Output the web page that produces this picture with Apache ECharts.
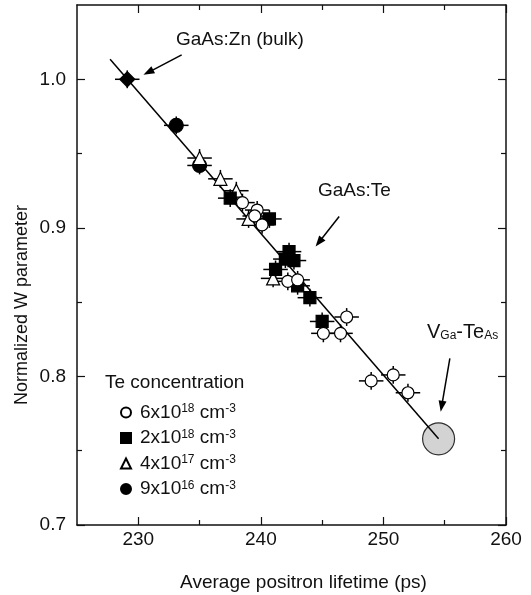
<!DOCTYPE html>
<html>
<head>
<meta charset="utf-8">
<script src="https://cdn.jsdelivr.net/npm/echarts@6/dist/echarts.min.js"></script>
<style>
  html, body { margin: 0; padding: 0; background: #fff; }
  #chart { width: 531px; height: 595px; }
</style>
</head>
<body>
<div id="chart"></div>
<script>
// Te 6x10^18 cm^-3 (open circles)
const circX = [238.5, 239.7, 239.5, 240.1, 242.2, 243.0, 245.1, 246.5, 247.0, 249.0, 250.8, 252.0];
const circY = [0.917, 0.912, 0.908, 0.902, 0.864, 0.865, 0.829, 0.829, 0.840, 0.797, 0.801, 0.789];
// Te 2x10^18 cm^-3 (filled squares)
const sqX = [237.5, 240.7, 242.3, 242.7, 242.0, 241.2, 243.0, 244.0, 245.0];
const sqY = [0.920, 0.906, 0.884, 0.878, 0.879, 0.872, 0.861, 0.853, 0.837];
// Te 4x10^17 cm^-3 (open triangles)
const triX = [235.0, 236.7, 238.0, 239.0, 241.0];
const triY = [0.947, 0.933, 0.925, 0.906, 0.866];
// Te 9x10^16 cm^-3 (filled circles)
const dotX = [233.1, 235.0];
const dotY = [0.969, 0.942];
// GaAs:Zn (bulk) reference
const znX = [229.1];
const znY = [1.000];
// V_Ga-Te_As point
const vX = [254.5];
const vY = [0.758];
// fitted line
const fitX = [227.7, 254.5];
const fitY = [1.0135, 0.758];
const xErr = 1.0;
const yErr = 0.006;

const xMajor = [230, 240, 250, 260];
const xMinor = [235, 245, 255];
const yMajor = [0.7, 0.8, 0.9, 1.0];
const yMinor = [0.75, 0.85, 0.95];

const font = '"Liberation Sans", Arial, sans-serif';
const ink = '#111';

function pts(xs, ys) { return xs.map((x, i) => [x, ys[i]]); }

let EChart = echarts.init(document.getElementById('chart'));

const allPts = [].concat(pts(znX, znY), pts(dotX, dotY), pts(triX, triY), pts(sqX, sqY), pts(circX, circY));

function axisX(pos, ticks, len, showLine, showLabel) {
  return {
    type: 'value', position: pos, min: 225, max: 260,
    axisLine: { show: showLine, onZero: false, lineStyle: { color: ink, width: 1.5 } },
    axisTick: { show: true, inside: true, length: len, customValues: ticks, lineStyle: { color: ink, width: 1.2 } },
    axisLabel: { show: showLabel, customValues: ticks, color: ink, fontSize: 19, fontFamily: font, margin: 5 },
    splitLine: { show: false }
  };
}
function axisY(pos, ticks, len, showLine, showLabel) {
  return {
    type: 'value', position: pos, min: 0.7, max: 1.05,
    axisLine: { show: showLine, onZero: false, lineStyle: { color: ink, width: 1.5 } },
    axisTick: { show: true, inside: true, length: len, customValues: ticks, lineStyle: { color: ink, width: 1.2 } },
    axisLabel: { show: showLabel, customValues: ticks, color: ink, fontSize: 19, fontFamily: font, margin: 11,
      formatter: v => v.toFixed(1) },
    splitLine: { show: false }
  };
}

const xAxes = [
  axisX('bottom', xMajor, 8, true, true),
  axisX('bottom', xMinor, 5, false, false),
  axisX('top', xMajor, 8, true, false),
  axisX('top', xMinor, 5, false, false)
];
xAxes[0].name = 'Average positron lifetime (ps)';
xAxes[0].nameLocation = 'middle';
xAxes[0].nameGap = 48;
xAxes[0].nameTextStyle = { color: ink, fontSize: 19, fontFamily: font, padding: [0, 0, 0, 24] };

const yAxes = [
  axisY('left', yMajor, 8, true, true),
  axisY('left', yMinor, 5, false, false),
  axisY('right', yMajor, 8, true, false),
  axisY('right', yMinor, 5, false, false)
];

const sup = { fontSize: 12, fontFamily: font, color: ink, verticalAlign: 'top' };
const sub = { fontSize: 12, fontFamily: font, color: ink, verticalAlign: 'bottom' };

function scatter(name, data, symbol, size, fill) {
  return {
    name: name, type: 'scatter', data: data, symbol: symbol, symbolSize: size, z: 5,
    itemStyle: { color: fill, borderColor: '#000', borderWidth: 1.2, opacity: 1 }
  };
}

let option = {
  animation: false,
  backgroundColor: '#fff',
  grid: { left: 77, right: 25, top: 5, bottom: 70, containLabel: false, outerBoundsMode: 'none' },
  xAxis: xAxes,
  yAxis: yAxes,
  legend: {
    orient: 'vertical', left: 120, top: 403, padding: 0,
    itemWidth: 10, itemHeight: 10, itemGap: 6.5,
    data: ['c6e18', 'c2e18', 'c4e17', 'c9e16'],
    formatter: n => ({
      c6e18: '6x10{s|18} cm{s|-3}',
      c2e18: '2x10{s|18} cm{s|-3}',
      c4e17: '4x10{s|17} cm{s|-3}',
      c9e16: '9x10{s|16} cm{s|-3}'
    })[n],
    textStyle: { color: ink, fontSize: 19, fontFamily: font, padding: [0, 0, 0, 4], rich: { s: sup } }
  },
  graphic: [
    { type: 'text', x: 22, y: 305, rotation: Math.PI / 2,
      style: { text: 'Normalized W parameter', font: '18px ' + font, fill: ink, textAlign: 'center', textVerticalAlign: 'middle' } },
    { type: 'text', left: 176, top: 30,
      style: { text: 'GaAs:Zn (bulk)', font: '19px ' + font, fill: ink } },
    { type: 'text', left: 318, top: 181,
      style: { text: 'GaAs:Te', font: '19px ' + font, fill: ink } },
    { type: 'text', left: 427, top: 322,
      style: { text: 'V{b|Ga}-Te{b|As}', fontSize: 20, fontFamily: font, fill: ink, rich: { b: sub } } },
    { type: 'text', left: 105, top: 373,
      style: { text: 'Te concentration', font: '19px ' + font, fill: ink } }
  ],
  series: [
    {
      name: 'VGa', type: 'scatter', data: pts(vX, vY), symbol: 'circle', symbolSize: 32, z: 2,
      itemStyle: { color: '#c8c8c8', borderColor: '#000', borderWidth: 1.2 }
    },
    {
      name: 'fit', type: 'line', data: pts(fitX, fitY), symbol: 'none', z: 3,
      lineStyle: { color: '#000', width: 1.5 },
      markLine: {
        silent: true, symbol: ['none', 'triangle'], symbolSize: [8, 11],
        label: { show: false },
        lineStyle: { color: '#000', width: 1.5, type: 'solid' },
        data: [
          [{ coord: [233.54, 1.0164] }, { coord: [230.82, 1.0047] }],
          [{ coord: [246.39, 0.9076] }, { coord: [244.74, 0.8903] }],
          [{ coord: [255.42, 0.8122] }, { coord: [254.75, 0.7799] }]
        ]
      }
    },
    {
      name: 'err', type: 'custom', data: allPts, z: 4,
      renderItem: (params, api) => {
        const x = api.value(0), y = api.value(1);
        const l = api.coord([x - xErr, y]), r = api.coord([x + xErr, y]);
        const t = api.coord([x, y + yErr]), b = api.coord([x, y - yErr]);
        const st = { stroke: '#000', lineWidth: 1.5 };
        return { type: 'group', children: [
          { type: 'line', shape: { x1: l[0], y1: l[1], x2: r[0], y2: r[1] }, style: st },
          { type: 'line', shape: { x1: t[0], y1: t[1], x2: b[0], y2: b[1] }, style: st }
        ] };
      }
    },
    scatter('zn', pts(znX, znY), 'diamond', 15, '#000'),
    scatter('c9e16', pts(dotX, dotY), 'circle', 14, '#000'),
    scatter('c4e17', pts(triX, triY), 'triangle', 13, '#fff'),
    scatter('c2e18', pts(sqX, sqY), 'rect', 12, '#000'),
    scatter('c6e18', pts(circX, circY), 'circle', 12, '#fff')
  ]
};
EChart.setOption(option);
</script>
</body>
</html>
